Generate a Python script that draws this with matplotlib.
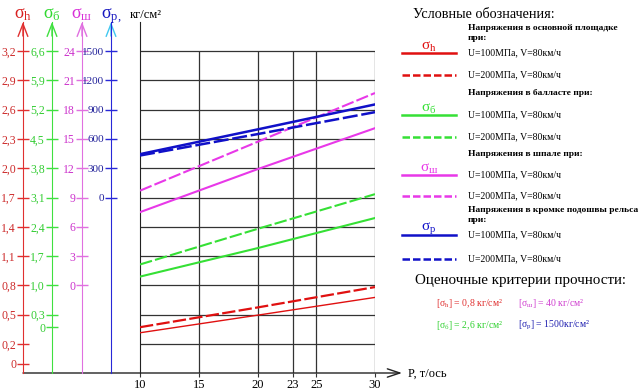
import matplotlib.pyplot as plt
from matplotlib.lines import Line2D

plt.rcParams['font.family'] = ['Liberation Serif', 'DejaVu Serif']
plt.rcParams['mathtext.fontset'] = 'custom'
plt.rcParams['mathtext.rm'] = 'Liberation Serif'
plt.rcParams['mathtext.it'] = 'Liberation Serif'

# нагрузка на ось P, т/ось
P = [10, 20, 30]
P_ticks = [10, 15, 20, 23, 25, 30]

# напряжения в основной площадке, кг/см2
sig_h_100 = [0.315, 0.495, 0.677]
sig_h_200 = [0.372, 0.574, 0.783]
# в балласте
sig_b_100 = [1.21, 1.89, 2.61]
sig_b_200 = [1.50, 2.35, 3.18]
# в шпале
sig_sh_100 = [7.5, 11.9, 16.1]
sig_sh_200 = [9.7, 14.7, 19.7]
# в кромке подошвы рельса
sig_p_100 = [444, 697, 953]
sig_p_200 = [430, 649, 874]

h_ticks = [0, 0.2, 0.5, 0.8, 1.1, 1.4, 1.7, 2.0, 2.3, 2.6, 2.9, 3.2]
b_ticks = [0, 0.3, 1.0, 1.7, 2.4, 3.1, 3.8, 4.5, 5.2, 5.9, 6.6]
sh_ticks = [0, 3, 6, 9, 12, 15, 18, 21, 24]
p_ticks = [0, 300, 600, 900, 1200, 1500]

W, H = 642, 392


def fx(x):
    return x / W


def fy(y):
    return 1 - y / H


def lab(v):
    return '0' if v == 0 else ('%.1f' % v).replace('.', ',')


RED, GREEN, MAG, BLUE = '#e01010', '#35e035', '#e838e8', '#1010c8'

fig = plt.figure(figsize=(6.42, 3.92), dpi=100)
ax = fig.add_axes([140 / W, 1 - 373 / H, 235 / W, 351 / H])
h_lo, h_hi = -0.097, 3.497
ax.set_xlim(10, 30)
ax.set_ylim(h_lo, h_hi)
for s in ['top', 'right', 'bottom']:
    ax.spines[s].set_visible(False)
ax.spines['left'].set_color('#222')
ax.set_yticks([])
ax.set_xticks(P_ticks, [str(p) for p in P_ticks])
ax.tick_params(axis='x', direction='out', length=3, color='#333', labelsize=9, pad=1)

# сетка
ax.hlines(h_ticks[1:], 10, 30, color='#333', lw=0.9, zorder=0)
ax.vlines(P_ticks[1:], h_lo, 3.2, color='#333', lw=0.9, zorder=0)

# ось P со стрелкой
ax.annotate('', xy=(1.115, 0), xytext=(-0.498, 0), xycoords='axes fraction',
            arrowprops=dict(arrowstyle='->,head_length=0.9,head_width=0.3', color='#222', lw=1,
                            shrinkA=0, shrinkB=0))
fig.text(fx(408), fy(377), 'P, т/ось', fontsize=9)


def scale_axis(pos, k, h0, ticks, labels, color, tcolor, acolor, size=8.5):
    t = ax.twinx()
    t.set_ylim((h_lo - h0) * k, (h_hi - h0) * k)
    for s in ['top', 'right', 'bottom']:
        t.spines[s].set_visible(False)
    t.spines['left'].set_visible(True)
    t.spines['left'].set_position(('axes', pos))
    t.spines['left'].set_color(color)
    t.yaxis.set_ticks_position('left')
    t.set_yticks(ticks, labels)
    t.tick_params(axis='y', direction='inout', length=8, width=1, color=color,
                  labelcolor=tcolor, labelsize=size, pad=1)
    ax.annotate('', xy=(pos, 1), xytext=(pos, 0.96), xycoords='axes fraction',
                arrowprops=dict(arrowstyle='->,head_length=0.9,head_width=0.35', color=acolor,
                                lw=1, shrinkA=0, shrinkB=0))
    return t


ax_h = scale_axis(-0.498, 1, 0, h_ticks, [lab(v) for v in h_ticks], '#e03030', '#cc2a2a', '#e03030')
ax_b = scale_axis(-0.3745, 7 / 3, 0.3714, b_ticks, [lab(v) for v in b_ticks], '#40e040', '#33cc33', '#40e040')
ax_sh = scale_axis(-0.2468, 10, 0.8, sh_ticks, [str(v) for v in sh_ticks], '#e070e0', '#cc33cc', '#e070e0')
ax_p = scale_axis(-0.1234, 1000, 1.7, p_ticks, [str(v) for v in p_ticks], '#2828d8', '#22229a', '#40c8f0', 8)

dash = (6, 1.5)
ax_h.plot(P, sig_h_100, color=RED, lw=1)
ax_h.plot(P, sig_h_200, color=RED, lw=1.6, dashes=dash)
ax_b.plot(P, sig_b_100, color=GREEN, lw=1.5)
ax_b.plot(P, sig_b_200, color=GREEN, lw=1.5, dashes=dash)
ax_sh.plot(P, sig_sh_100, color=MAG, lw=1.5)
ax_sh.plot(P, sig_sh_200, color=MAG, lw=1.5, dashes=dash)
ax_p.plot(P, sig_p_100, color=BLUE, lw=1.8)
ax_p.plot(P, sig_p_200, color=BLUE, lw=1.8, dashes=dash)

# подписи осей
for x, sub, c in [(23, 'h', '#d82020'), (52, 'б', '#30d830'), (82, 'ш', '#d830d8'), (111, 'р,', '#1818c0')]:
    fig.text(fx(x), fy(18), r'$\mathrm{σ_{%s}}$' % sub, color=c, fontsize=13, ha='center')
fig.text(fx(130), fy(18), 'кг/см²', fontsize=9)

# легенда
fig.text(fx(413), fy(18), 'Условные обозначения:', fontsize=10.3)
groups = [
    ('Напряжения в основной площадке\nпри:', 'h', RED, 40, 53, 75),
    ('Напряжения в балласте при:', 'б', GREEN, 95, 115, 137),
    ('Напряжения в шпале при:', 'ш', MAG, 156, 175, 196),
    ('Напряжения в кромке подошвы рельса\nпри:', 'р', BLUE, 222, 235, 259),
]
for title, sub, c, ty, y1, y2 in groups:
    fig.text(fx(468), fy(ty), title, fontsize=6.8, fontweight='bold', va='baseline', linespacing=1.3)
    fig.add_artist(Line2D([fx(402), fx(456)], [fy(y1), fy(y1)], color=c, lw=1.8))
    fig.add_artist(Line2D([fx(402), fx(456)], [fy(y2), fy(y2)], color=c, lw=1.8, dashes=(3, 1.2)))
    fig.text(fx(429), fy(y1 + 1), r'$\mathrm{σ_{%s}}$' % sub, color=c, fontsize=11, ha='center', va='bottom')
    fig.text(fx(468), fy(y1), 'U=100МПа, V=80км/ч', fontsize=7, va='center')
    fig.text(fx(468), fy(y2), 'U=200МПа, V=80км/ч', fontsize=7, va='center')

fig.text(fx(415), fy(284), 'Оценочные критерии прочности:', fontsize=10.8)
crit = [
    (436, 304, r'$\mathrm{[σ_{h}]}$ = 0,8 кг/см²', '#e03030'),
    (518, 304, r'$\mathrm{[σ_{ш}]}$ = 40 кг/см²', '#d040d0'),
    (436, 325, r'$\mathrm{[σ_{б}]}$ = 2,6 кг/см²', '#30d030'),
    (518, 325, r'$\mathrm{[σ_{р}]}$ = 1500кг/см²', '#2020b0'),
]
for x, y, s, c in crit:
    fig.text(fx(x), fy(y), s, color=c, fontsize=7, va='center')

fig.savefig('out.png', dpi=100)
